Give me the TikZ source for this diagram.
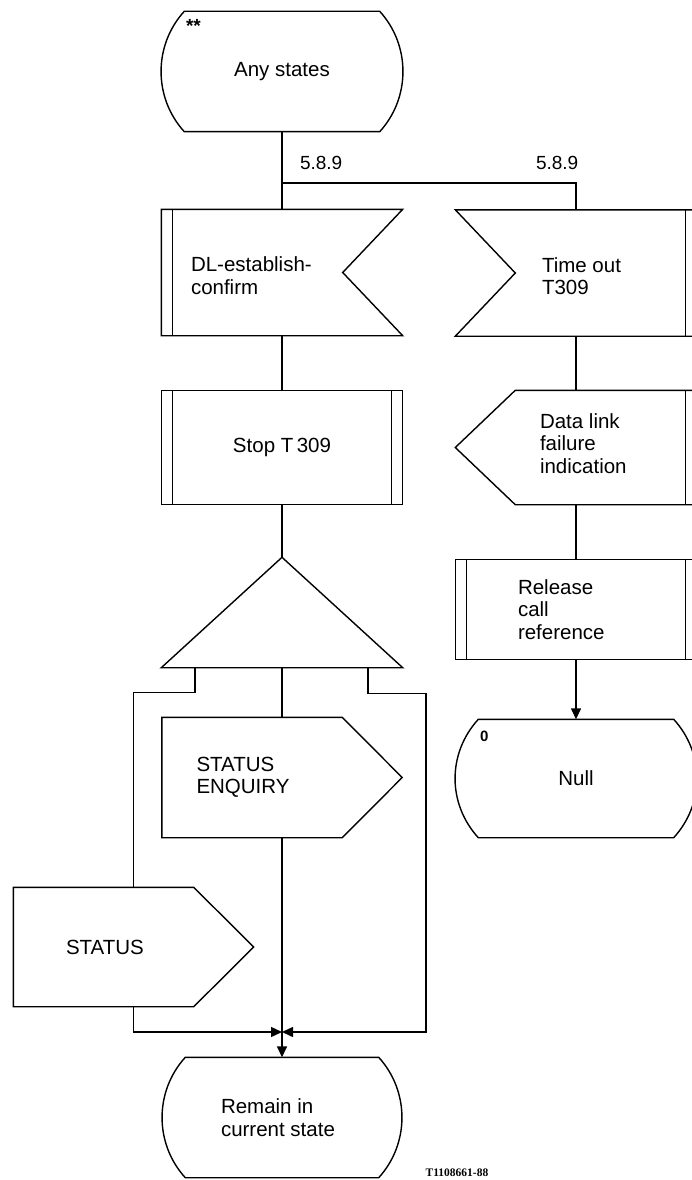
\documentclass[tikz,border=0pt]{standalone}
\usepackage{fontspec}
\setsansfont{Liberation Sans}
\setmainfont{Liberation Serif}
\usetikzlibrary{arrows.meta, calc}

\begin{document}
\begin{tikzpicture}[
    x=1pt, y=-1pt,
    font=\sffamily\fontsize{20.5}{22.5}\selectfont,
    line width=1.4pt,
    >={Triangle[length=11pt, width=10pt]},
    frame/.style={inner sep=0pt, minimum width=240pt},
    txt/.style={anchor=west, align=left, inner sep=0pt},
    tag/.style={font=\sffamily\fontsize{15}{15}\selectfont\bfseries,
                anchor=north west, inner sep=0pt},
    ref/.style={font=\sffamily\fontsize{19}{19}\selectfont, anchor=west},
]

\useasboundingbox (0,0) rectangle (691,1180);

\def\nd{60pt}   % depth of notches and points
\def\bw{11pt}   % gap of the double side bars
\def\sc{23pt}   % inset of the state corners

% State: flat top and bottom, bowed sides
\newcommand{\sdlstate}[1]{
    \draw ([xshift=\sc]#1.north west) -- ([xshift=-\sc]#1.north east)
        .. controls ([xshift=8pt, yshift=-34pt]#1.north east)
                and ([xshift=8pt, yshift=34pt]#1.south east)
        .. ([xshift=-\sc]#1.south east) -- ([xshift=\sc]#1.south west)
        .. controls ([xshift=-8pt, yshift=34pt]#1.south west)
                and ([xshift=-8pt, yshift=-34pt]#1.north west)
        .. ([xshift=\sc]#1.north west) -- cycle;
}
% Input, notch on the right / on the left
\newcommand{\sdlinr}[1]{
    \draw (#1.north west) -- (#1.north east) -- ([xshift=-\nd]#1.east)
        -- (#1.south east) -- (#1.south west) -- cycle;
}
\newcommand{\sdlinl}[1]{
    \draw (#1.north west) -- (#1.north east) -- (#1.south east)
        -- (#1.south west) -- ([xshift=\nd]#1.west) -- cycle;
}
% Output, point on the right / on the left
\newcommand{\sdloutr}[1]{
    \draw (#1.north west) -- ([xshift=-\nd]#1.north east) -- (#1.east)
        -- ([xshift=-\nd]#1.south east) -- (#1.south west) -- cycle;
}
\newcommand{\sdloutl}[1]{
    \draw (#1.west) -- ([xshift=\nd]#1.north west) -- (#1.north east)
        -- (#1.south east) -- ([xshift=\nd]#1.south west) -- cycle;
}
% Task box and side bars
\newcommand{\sdltask}[1]{
    \draw (#1.north west) rectangle (#1.south east);
}
\newcommand{\sdlbarl}[1]{
    \draw ([xshift=\bw]#1.north west) -- ([xshift=\bw]#1.south west);
}
\newcommand{\sdlbarr}[1]{
    \draw ([xshift=-\bw]#1.north east) -- ([xshift=-\bw]#1.south east);
}

% LEFT BRANCH
\node[frame, minimum height=119pt] (any) at (282,71.5) {Any states};
\node[tag, font=\sffamily\fontsize{19}{19}\selectfont\bfseries] (anytag)
    at ([xshift=24pt, yshift=-7pt]any.north west) {**};
\node[frame, minimum height=125pt] (dl) at (282,272.5) {};
\node[txt] (dltxt) at ([xshift=29pt, yshift=-3pt]dl.west) {DL-establish-\\confirm};
\node[frame, minimum height=113pt] (stop) at (282,447.5) {Stop T\,309};
\node[frame, minimum height=109pt] (dec) at (282,612.5) {};
\node[frame, minimum height=119pt, minimum width=239pt] (enq) at (282,777.5) {};
\node[txt] (enqtxt) at ([xshift=34pt]enq.west) {STATUS\\ENQUIRY};
\node[frame, minimum height=118pt, minimum width=239pt] (st) at (133.5,947) {};
\node[txt] (sttxt) at ([xshift=52pt]st.west) {STATUS};
\coordinate (join) at (282,1032);
\node[frame, minimum height=119pt, minimum width=238pt] (remain) at (282,1117.5) {};
\node[txt] (remaintxt) at ([xshift=58pt]remain.west) {Remain in\\current state};

% RIGHT BRANCH
\node[frame, minimum height=125pt] (to) at (576,273) {};
\node[txt] (totxt) at ([xshift=86pt, yshift=-3pt]to.west) {Time out\\T309};
\node[frame, minimum height=113pt] (fail) at (576,447.5) {};
\node[txt] (failtxt) at ([xshift=84pt, yshift=4pt]fail.west) {Data link\\failure\\indication};
\node[frame, minimum height=99pt] (rel) at (576,609.5) {};
\node[txt] (reltxt) at ([xshift=62pt]rel.west) {Release\\call\\reference};
\node[frame, minimum height=117pt] (null) at (576,778.5) {Null};
\node[tag] (nulltag) at ([xshift=24pt, yshift=-11pt]null.north west) {0};

% symbol outlines
\sdlstate{any}
\sdlinr{dl}   \sdlbarl{dl}
\sdltask{stop} \sdlbarl{stop} \sdlbarr{stop}
\draw (dec.north) -- (dec.south east) -- (dec.south west) -- cycle;
\sdloutr{enq}
\sdloutr{st}
\sdlstate{remain}
\sdlinl{to}   \sdlbarr{to}
\sdloutl{fail} \sdlbarr{fail}
\sdltask{rel} \sdlbarl{rel} \sdlbarr{rel}
\sdlstate{null}

% connectors
\coordinate (split) at (282,183);
\draw (any.south) -- (dl.north);
\draw (split) -| (to.north);
\node[ref] (lblL) at (296,163) {5.8.9};
\node[ref] (lblR) at (532,163) {5.8.9};
\draw (dl.south) -- (stop.north);
\draw (stop.south) -- (dec.north);
\draw (to.south) -- (fail.north);
\draw (fail.south) -- (rel.north);
\draw[->] (rel.south) -- (null.north);

\draw ([xshift=-87pt]dec.south) -- ++(0,25) -| (st.north);
\draw (dec.south) -- (enq.north);
\draw[->] ([xshift=86pt]dec.south) -- ++(0,26) -- ++(58,0) |- (join);
\draw[->] (st.south) |- (join);
\draw[->] (enq.south) -- (remain.north);

% Footer code
\node[font=\rmfamily\bfseries\fontsize{11.5}{11.5}\selectfont, anchor=base west,
      inner sep=0pt]
    (code) at (425,1176) {T1108661-88};

\end{tikzpicture}
\end{document}
